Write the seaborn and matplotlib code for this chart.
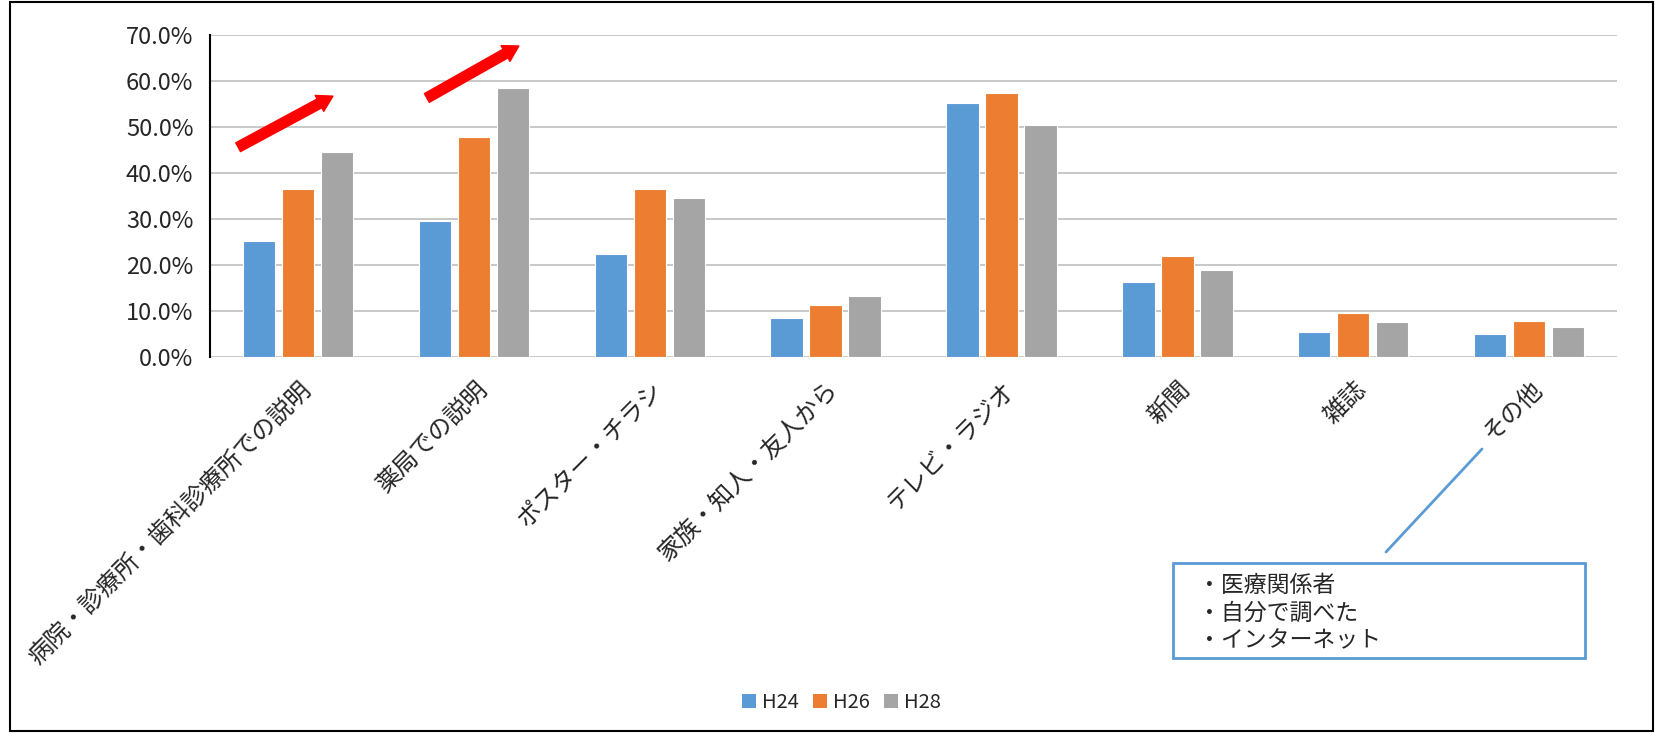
import matplotlib
matplotlib.use('Agg')
import matplotlib.pyplot as plt
import matplotlib.patches as patches
from matplotlib.lines import Line2D
import seaborn as sns
import pandas as pd

# data
categories = ['病院・診療所・歯科診療所での説明', '薬局での説明', 'ポスター・チラシ',
              '家族・知人・友人から', 'テレビ・ラジオ', '新聞', '雑誌', 'その他']
years = ['H24', 'H26', 'H28']
h24 = [25.3, 29.6, 22.4, 8.4, 55.2, 16.4, 5.5, 5.1]
h26 = [36.5, 47.8, 36.5, 11.2, 57.4, 21.9, 9.6, 7.9]
h28 = [44.6, 58.4, 34.5, 13.2, 50.4, 19.0, 7.6, 6.6]
colors = ['#5B9BD5', '#ED7D31', '#A5A5A5']
y_ticks = [0, 10, 20, 30, 40, 50, 60, 70]
note_lines = ['・医療関係者', '・自分で調べた', '・インターネット']

df = pd.DataFrame({
    'cat': categories * 3,
    'year': [y for y in years for _ in categories],
    'val': h24 + h26 + h28,
})

sns.set_theme(style='white')
plt.rcParams['font.family'] = ['Noto Sans CJK JP', 'DejaVu Sans']

fig = plt.figure(figsize=(16.56, 7.33), dpi=100)
ax = fig.add_axes([0.1268, 0.513, 0.8497, 0.4393])

sns.barplot(data=df, x='cat', y='val', hue='year', palette=colors, saturation=1,
            width=0.665, gap=0.17, edgecolor='white', linewidth=0.8,
            ax=ax, legend=False, zorder=3)

ax.set_ylim(0, 70)
ax.set_yticks(y_ticks)
ax.set_yticklabels([f'{t:.1f}%' for t in y_ticks], fontsize=17)
ax.set_xlim(-0.5, len(categories) - 0.5)
ax.set_xlabel('')
ax.set_ylabel('')
ax.grid(axis='y', color='#BFBFBF', linewidth=1.2, zorder=0)
ax.set_axisbelow(True)
for s in ['top', 'right', 'bottom']:
    ax.spines[s].set_visible(False)
ax.spines['left'].set_color('black')
ax.spines['left'].set_linewidth(1.5)
ax.tick_params(axis='y', length=0, pad=12)
ax.tick_params(axis='x', length=0, pad=14)
ax.set_xticks(range(len(categories)))
ax.set_xticklabels(categories, rotation=45, ha='right', rotation_mode='anchor',
                   fontsize=17.5)

# red trend arrows
arrow_kw = dict(arrowstyle='simple,head_width=1.3,head_length=1.1,tail_width=0.72',
                color='#FF0000', mutation_scale=10, shrinkA=0, shrinkB=0)
ax.annotate('', xy=(0.199, 56.7), xytext=(-0.34, 45.6), arrowprops=arrow_kw,
            annotation_clip=False)
ax.annotate('', xy=(1.256, 67.6), xytext=(0.733, 56.3), arrowprops=arrow_kw,
            annotation_clip=False)

# legend
handles = [patches.Patch(facecolor=c, edgecolor='none') for c in colors]
fig.legend(handles, years, loc='center', bbox_to_anchor=(0.508, 0.042), ncol=3,
           frameon=False, fontsize=14.5, handlelength=0.7, handleheight=0.7,
           handletextpad=0.3, columnspacing=0.7)

# callout for その他
W, H = 1656, 733
fig.add_artist(Line2D([1482 / W, 1386 / W], [1 - 449 / H, 1 - 552 / H],
                      color='#5B9BD5', linewidth=2, transform=fig.transFigure))
fig.add_artist(patches.Rectangle((1173 / W, 1 - 658 / H), (1585 - 1173) / W, (658 - 563) / H,
                                 transform=fig.transFigure, fill=False,
                                 edgecolor='#5B9BD5', linewidth=2))
for i, line in enumerate(note_lines):
    fig.text(1198 / W, 1 - (585 + 28 * i) / H, line, fontsize=16.5, va='center', ha='left')

# outer frame
fig.add_artist(patches.Rectangle((10 / W, 2 / H), (1653 - 10) / W, (H - 4) / H,
                                 transform=fig.transFigure, fill=False,
                                 edgecolor='black', linewidth=1.5))

plt.savefig('out.png', dpi=100)
